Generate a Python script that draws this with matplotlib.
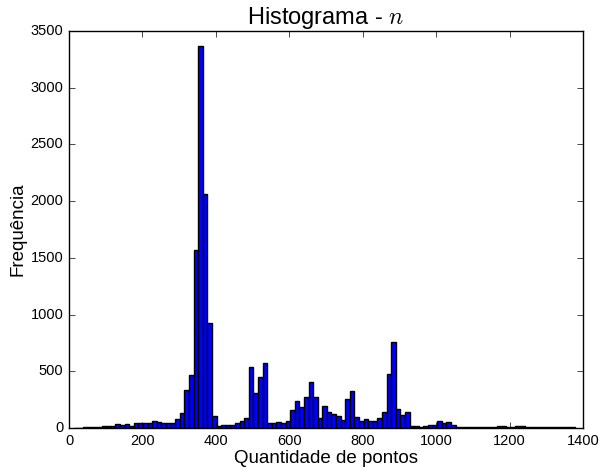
import numpy as np
import matplotlib
matplotlib.use('Agg')
import matplotlib.pyplot as plt

# contagens (uma por bin)
counts = [2, 3, 5, 7, 10, 12, 15, 20, 20, 35, 25, 35, 20, 40, 40, 40, 40, 60, 50, 45,
          45, 47, 77, 130, 335, 467, 1570, 3370, 2060, 925, 105, 20, 28, 25, 25, 40,
          60, 85, 540, 311, 447, 570, 41, 41, 56, 41, 65, 159, 241, 182, 271, 403,
          271, 88, 197, 138, 123, 109, 71, 256, 329, 100, 65, 79, 65, 65, 85, 138,
          476, 756, 168, 115, 144, 21, 18, 6, 18, 23, 23, 62, 44, 50, 29,
          12, 12, 9, 12, 12, 9, 6, 6, 9, 15, 15, 12, 12, 15, 18, 12,
          10, 9, 9, 8, 8, 7, 7, 6, 6, 5]
bin_min = 13.85
bin_max = 1378.0
xticks = [0, 200, 400, 600, 800, 1000, 1200, 1400]
yticks = [0, 500, 1000, 1500, 2000, 2500, 3000, 3500]

edges = np.linspace(bin_min, bin_max, len(counts) + 1)
centers = (edges[:-1] + edges[1:]) / 2

plt.style.use('classic')
plt.rcParams['font.family'] = ['Liberation Sans', 'DejaVu Sans']
plt.rcParams['mathtext.fontset'] = 'cm'

fig = plt.figure(figsize=(6, 4.7), dpi=100, facecolor='white')
ax = fig.add_axes([0.115, 0.0894, 0.857, 0.845])
ax.hist(centers, bins=edges, weights=counts, color='blue', edgecolor='black', linewidth=1)
ax.set_xlim(0, 1400)
ax.set_ylim(0, 3500)
ax.set_xticks(xticks)
ax.set_yticks(yticks)
ax.tick_params(labelsize=10.5)
ax.set_title('Histograma - $n$', fontsize=17)
ax.set_xlabel('Quantidade de pontos', fontsize=13.5, labelpad=2)
ax.set_ylabel('Frequência', fontsize=13.5, labelpad=3)
fig.savefig('out.png', dpi=100, facecolor='white')
